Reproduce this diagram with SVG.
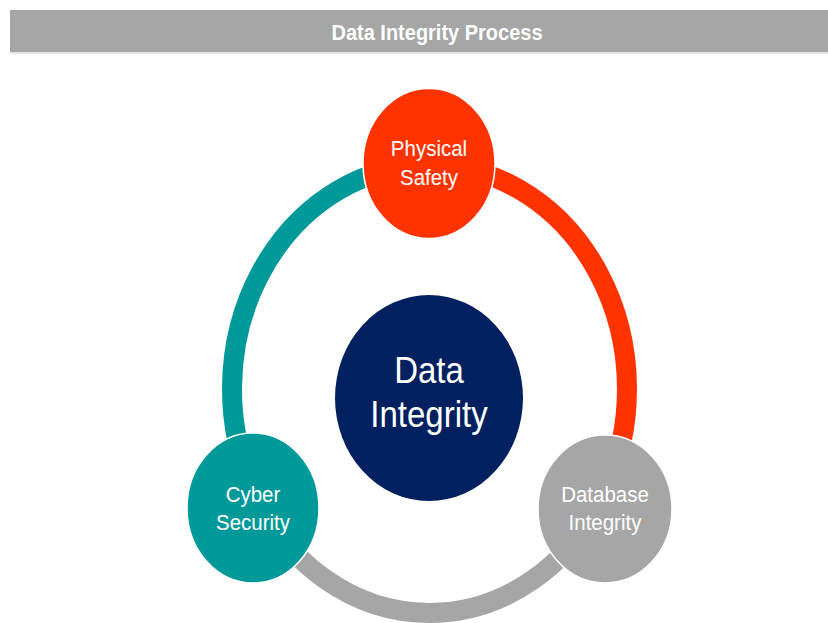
<svg xmlns="http://www.w3.org/2000/svg" width="828" height="623" viewBox="0 0 828 623">
  <style>
    .lbl { font-family: "Liberation Sans", Arial, sans-serif; fill: #ffffff; text-anchor: middle; }
    .node { stroke: #ffffff; stroke-width: 1.5; }
    .ring { fill: none; stroke-width: 20; }
  </style>
  <rect x="0" y="0" width="828" height="623" fill="#ffffff"/>
  <g id="header">
    <rect x="10" y="10" width="818" height="42" fill="#a6a6a6"/>
    <rect x="10" y="52" width="818" height="2" fill="#e6e6e6"/>
    <text class="lbl" font-weight="bold" font-size="20" transform="translate(437,40) scale(1,1.12)">Data Integrity Process</text>
  </g>
  <g id="connectors">
    <path class="ring" stroke="#009999" d="M 429 165 A 197.5 224 0 0 0 253 489.5"/>
    <path class="ring" stroke="#ff3300" d="M 429 165 A 197.5 224 0 0 1 605 491.7"/>
    <path class="ring" stroke="#a6a6a6" d="M 253 489.5 A 197.5 224 0 0 0 605 491.7"/>
  </g>
  <g id="data-integrity">
    <ellipse cx="429" cy="398" rx="94" ry="103" fill="#002060"/>
    <text class="lbl" font-size="33" transform="translate(429,383) scale(1,1.1)">Data</text>
    <text class="lbl" font-size="33" transform="translate(429,427) scale(1,1.1)">Integrity</text>
  </g>
  <g id="physical-safety">
    <ellipse class="node" cx="429" cy="163.5" rx="66" ry="75" fill="#ff3300"/>
    <text class="lbl" font-size="20.5" transform="translate(429,156) scale(1,1.12)">Physical</text>
    <text class="lbl" font-size="20.5" transform="translate(429,185) scale(1,1.12)">Safety</text>
  </g>
  <g id="cyber-security">
    <ellipse class="node" cx="253" cy="508" rx="66" ry="75" fill="#009999"/>
    <text class="lbl" font-size="20.5" transform="translate(253,502) scale(1,1.12)">Cyber</text>
    <text class="lbl" font-size="20.5" transform="translate(253,530) scale(1,1.12)">Security</text>
  </g>
  <g id="database-integrity">
    <ellipse class="node" cx="605" cy="509" rx="67" ry="74" fill="#a6a6a6"/>
    <text class="lbl" font-size="20.5" transform="translate(605,502) scale(1,1.12)">Database</text>
    <text class="lbl" font-size="20.5" transform="translate(605,530) scale(1,1.12)">Integrity</text>
  </g>
</svg>
